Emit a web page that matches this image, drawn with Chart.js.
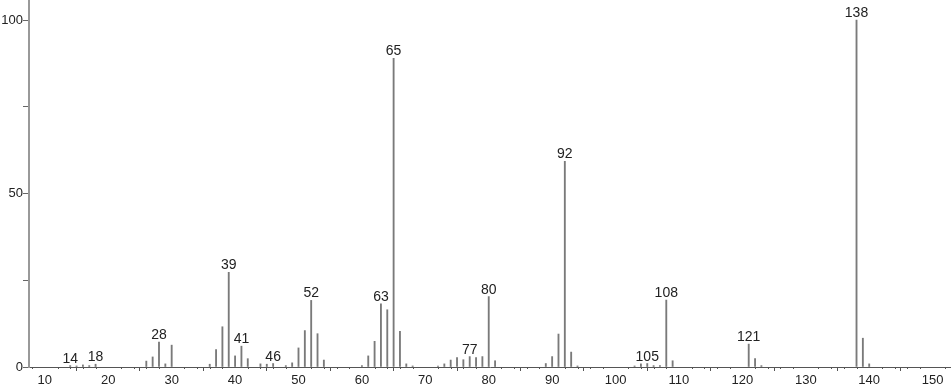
<!DOCTYPE html>
<html>
<head>
<meta charset="utf-8">
<script src="https://cdn.jsdelivr.net/npm/chart.js@4/dist/chart.umd.min.js"></script>
<style>
html,body{margin:0;padding:0;background:#fff;}
#wrap{width:951px;height:389px;}
</style>
</head>
<body>
<div id="wrap"><canvas id="c" width="951" height="389"></canvas></div>
<script>
// m/z values and relative intensities
const mz = [14,15,16,17,18,26,27,28,29,30,36,37,38,39,40,41,42,44,45,46,48,49,50,51,52,53,54,
  60,61,62,63,64,65,66,67,68,72,73,74,75,76,77,78,79,80,81,89,90,91,92,93,94,
  103,104,105,106,107,108,109,121,122,123,138,139,140];
const intensity = [0.4,0.3,0.6,0.4,0.8,1.7,2.9,7.2,0.9,6.3,0.8,5.0,11.6,27.3,3.2,6.0,2.4,0.9,0.8,1.0,0.4,1.2,5.5,10.5,19.2,9.6,2.0,
  0.4,3.2,7.4,18.2,16.5,89.0,10.3,0.9,0.3,0.3,0.9,2.0,2.7,2.1,3.0,2.7,3.0,20.3,1.8,1.0,3.0,9.5,59.3,4.3,0.3,
  0.3,0.9,1.0,0.4,0.4,19.3,1.8,6.6,2.4,0.4,100,8.3,0.9];
const labeledPeaks = [14,18,28,39,41,46,52,63,65,77,80,92,105,108,121,138];
const xTicks = [10,20,30,40,50,60,70,80,90,100,110,120,130,140,150];
const yTicks = [0,25,50,75,100];
const yLabeled = [0,50,100];

const FONT = "'Liberation Sans', Arial, sans-serif";

const peakLabels = {
  id: 'peakLabels',
  afterDatasetsDraw(chart) {
    const ctx = chart.ctx;
    const xs = chart.scales.x, ys = chart.scales.y;
    ctx.save();
    ctx.font = '14px ' + FONT;
    ctx.fillStyle = '#222';
    ctx.textAlign = 'center';
    ctx.textBaseline = 'alphabetic';
    labeledPeaks.forEach(m => {
      const i = mz.indexOf(m);
      if (i < 0) return;
      const px = xs.getPixelForValue(m);
      const py = ys.getPixelForValue(intensity[i]);
      ctx.fillText(String(m), px, py - 3);
    });
    ctx.restore();
  }
};

const minorTicks = {
  id: 'minorTicks',
  afterDraw(chart) {
    const ctx = chart.ctx;
    const xs = chart.scales.x;
    const base = chart.chartArea.bottom;
    ctx.save();
    ctx.strokeStyle = '#555';
    ctx.lineWidth = 1;
    ctx.beginPath();
    for (let v = 8; v <= 152; v += 2) {
      if (v % 10 === 0) continue;
      const px = Math.round(xs.getPixelForValue(v)) + 0.5;
      ctx.moveTo(px, base);
      ctx.lineTo(px, base + 2);
    }
    ctx.stroke();
    ctx.restore();
  }
};

new Chart(document.getElementById('c'), {
  type: 'bar',
  data: {
    datasets: [{
      data: mz.map((m, i) => ({x: m, y: intensity[i]})),
      backgroundColor: '#7a7a7a',
      borderWidth: 0,
      barThickness: 1.2
    }]
  },
  options: {
    responsive: false,
    animation: false,
    devicePixelRatio: 1,
    layout: {padding: 0},
    plugins: {legend: {display: false}, tooltip: {enabled: false}},
    scales: {
      x: {
        type: 'linear',
        min: 7.5,
        max: 152.9,
        offset: false,
        afterBuildTicks(s) { s.ticks = xTicks.map(v => ({value: v})); },
        afterFit(s) { s.height = 22; s.paddingLeft = 0; s.paddingRight = 0; },
        grid: {drawOnChartArea: false, tickLength: 4, color: '#555'},
        border: {color: '#555', width: 1},
        ticks: {font: {family: FONT, size: 13}, color: '#222', padding: 2, maxRotation: 0, autoSkip: false}
      },
      y: {
        min: 0,
        max: 105.8,
        afterBuildTicks(s) { s.ticks = yTicks.map(v => ({value: v})); },
        afterFit(s) { s.width = 29; s.paddingTop = 0; s.paddingBottom = 0; },
        grid: {drawOnChartArea: false, tickLength: 6, color: '#666'},
        border: {color: '#999', width: 2},
        ticks: {
          font: {family: FONT, size: 13}, color: '#222', padding: 0, autoSkip: false,
          callback: v => yLabeled.includes(v) ? String(v) : ''
        }
      }
    }
  },
  plugins: [peakLabels, minorTicks]
});
</script>
</body>
</html>
